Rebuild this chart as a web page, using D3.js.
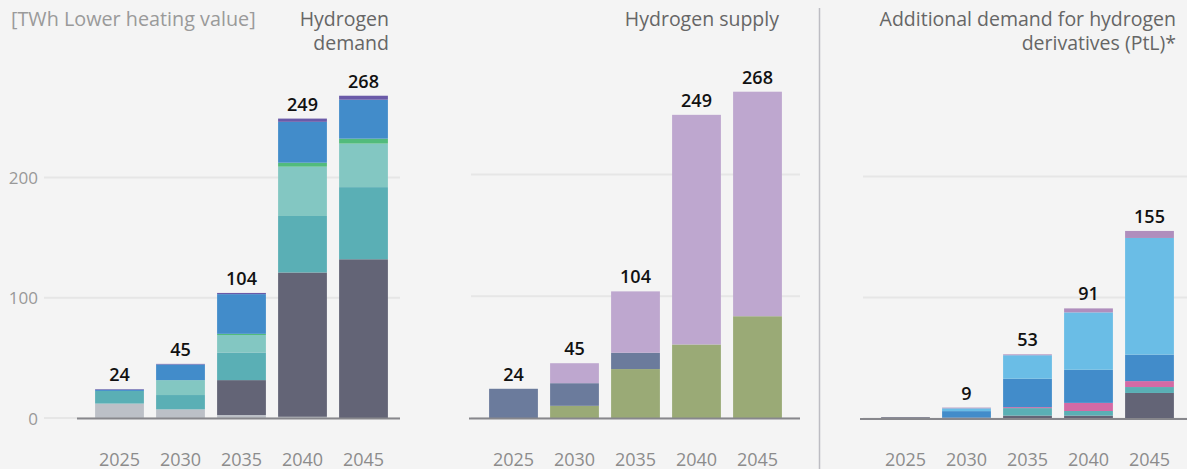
<!DOCTYPE html>
<html>
<head>
<meta charset="utf-8">
<script src="https://cdn.jsdelivr.net/npm/d3@7"></script>
<style>
  html, body { margin: 0; padding: 0; background: #f4f4f4; }
  svg { display: block; font-family: "Open Sans", sans-serif; }
</style>
</head>
<body>
<div id="chart"></div>
<script>
const years = ["2025", "2030", "2035", "2040", "2045"];

// Hydrogen demand, stacked bottom -> top
const demandKeys = ["grey", "slate", "teal", "lightTeal", "green", "blue", "violet"];
const demandGrey      = [12,   7.2,  2.5,  1,   0];
const demandSlate     = [0,    0,    29,   120, 132];
const demandTeal      = [10.5, 11.9, 23,   47,  60];
const demandLightTeal = [0,    12.4, 14.5, 41,  36.2];
const demandGreen     = [0,    0,    1,    3.3, 4.1];
const demandBlue      = [1,    13,   33,   34,  32.4];
const demandViolet    = [0.5,  0.5,  1,    2.7, 3.3];
const demandTotals    = [24, 45, 104, 249, 268];

// Hydrogen supply
const supplyKeys = ["olive", "slateBlue", "lavender"];
const supplyOlive     = [0,  10,   40.2, 60.4,  83.6];
const supplySlateBlue = [24, 18.6, 13.4, 0,     0];
const supplyLavender  = [0,  16.4, 50.4, 188.6, 184.4];
const supplyTotals    = [24, 45, 104, 249, 268];

// Additional demand for derivatives (PtL)
const ptlKeys = ["slate", "teal", "pink", "blue", "sky", "mauve"];
const ptlSlate = [1,   0.8, 2.4,  2.4,  21.1];
const ptlTeal  = [0,   0,   6.2,  3.8,  4.9];
const ptlPink  = [0,   0,   0.8,  6.7,  4.9];
const ptlBlue  = [0,   5.3, 23.5, 27.4, 21.9];
const ptlSky   = [0,   2.3, 19.4, 47.4, 96.4];
const ptlMauve = [0,   0.6, 0.7,  3.3,  5.8];
const ptlTotals = [null, 9, 53, 91, 155];

const yTicks = [0, 100, 200];

const colors = {
  grey: "#bcc0c7", slate: "#636476", teal: "#5aafb5", lightTeal: "#83c7c2",
  green: "#52bb7c", blue: "#428cca", violet: "#6a5aa8",
  olive: "#9aaa76", slateBlue: "#6b7b9c", lavender: "#bea7cf",
  pink: "#d46aa5", sky: "#6abde6", mauve: "#b08ebd"
};

function rows(keys, arrays) {
  return years.map((yr, i) => {
    const r = { year: yr };
    keys.forEach((k, j) => { r[k] = arrays[j][i]; });
    return r;
  });
}

const panels = [
  {
    keys: demandKeys,
    data: rows(demandKeys, [demandGrey, demandSlate, demandTeal, demandLightTeal, demandGreen, demandBlue, demandViolet]),
    totals: demandTotals,
    xRange: [89, 394], yRange: [418, 177.5],
    gridX: [44, 400], baseX: [77, 400],
    title: ["Hydrogen", "demand"], titleX: 389, showTicks: true
  },
  {
    keys: supplyKeys,
    data: rows(supplyKeys, [supplyOlive, supplySlateBlue, supplyLavender]),
    totals: supplyTotals,
    xRange: [483, 788], yRange: [418, 174.5],
    gridX: [471, 800], baseX: [469, 800],
    title: ["Hydrogen supply"], titleX: 779
  },
  {
    keys: ptlKeys,
    data: rows(ptlKeys, [ptlSlate, ptlTeal, ptlPink, ptlBlue, ptlSky, ptlMauve]),
    totals: ptlTotals,
    xRange: [875, 1180], yRange: [418.5, 176.5],
    gridX: [863, 1187], baseX: [860, 1187],
    title: ["Additional demand for hydrogen", "derivatives (PtL)*"], titleX: 1176
  }
];

const W = 1187, H = 469;
const svg = d3.select("#chart").append("svg")
  .attr("width", W).attr("height", H);

svg.append("rect").attr("width", W).attr("height", H).attr("fill", "#f4f4f4");

// unit label
svg.append("text")
  .attr("x", 11).attr("y", 26)
  .attr("font-size", 19.8).attr("fill", "#9a9a9a")
  .text("[TWh Lower heating value]");

// separator
svg.append("line")
  .attr("x1", 819.5).attr("x2", 819.5).attr("y1", 8).attr("y2", H)
  .attr("stroke", "#bdbdc3").attr("stroke-width", 1.5);

panels.forEach((p) => {
  const x = d3.scaleBand().domain(years).range(p.xRange)
    .paddingInner(0.2).paddingOuter(0.1);
  const y = d3.scaleLinear().domain([0, 200]).range(p.yRange);
  const g = svg.append("g");

  // grid
  g.selectAll(".grid").data(yTicks).join("line")
    .attr("x1", p.gridX[0]).attr("x2", p.gridX[1])
    .attr("y1", (d) => y(d)).attr("y2", (d) => y(d))
    .attr("stroke", "#e6e6e6").attr("stroke-width", 2);

  if (p.showTicks) {
    g.append("g")
      .attr("transform", `translate(${p.gridX[0]},0)`)
      .call(d3.axisLeft(y).tickValues(yTicks).tickSize(0).tickPadding(6))
      .call((a) => a.select(".domain").remove())
      .selectAll("text")
      .attr("font-family", "Open Sans, sans-serif")
      .attr("font-size", 17).attr("fill", "#999")
      .attr("dy", "0.36em");
  }

  // bars
  const series = d3.stack().keys(p.keys)(p.data);
  g.selectAll(".layer").data(series).join("g")
    .attr("fill", (s) => colors[s.key])
    .selectAll("rect").data((s) => s).join("rect")
    .attr("x", (d) => x(d.data.year))
    .attr("width", x.bandwidth())
    .attr("y", (d) => y(d[1]))
    .attr("height", (d) => Math.max(0, y(d[0]) - y(d[1])));

  // baseline
  g.append("line")
    .attr("x1", p.baseX[0]).attr("x2", p.baseX[1])
    .attr("y1", y(0) + 0.5).attr("y2", y(0) + 0.5)
    .attr("stroke", "#87878c").attr("stroke-width", 2);

  // totals
  const tops = p.data.map((d) => d3.sum(p.keys, (k) => d[k]));
  g.selectAll(".total").data(p.totals).join("text")
    .attr("x", (_, i) => x(years[i]) + x.bandwidth() / 2)
    .attr("y", (_, i) => y(tops[i]) - 8)
    .attr("text-anchor", "middle")
    .attr("font-size", 18).attr("font-weight", 600).attr("fill", "#111")
    .text((d) => (d == null ? "" : d));

  // year axis
  g.append("g")
    .attr("transform", "translate(0,466)")
    .call(d3.axisBottom(x).tickSize(0).tickPadding(0))
    .call((a) => a.select(".domain").remove())
    .selectAll("text")
    .attr("font-family", "Open Sans, sans-serif")
    .attr("font-size", 18).attr("fill", "#8c8c8c")
    .attr("dy", 0);

  // title
  p.title.forEach((t, i) => {
    g.append("text")
      .attr("x", p.titleX).attr("y", 26 + i * 24)
      .attr("text-anchor", "end")
      .attr("font-size", 19.5).attr("fill", "#666")
      .text(t);
  });
});
</script>
</body>
</html>
